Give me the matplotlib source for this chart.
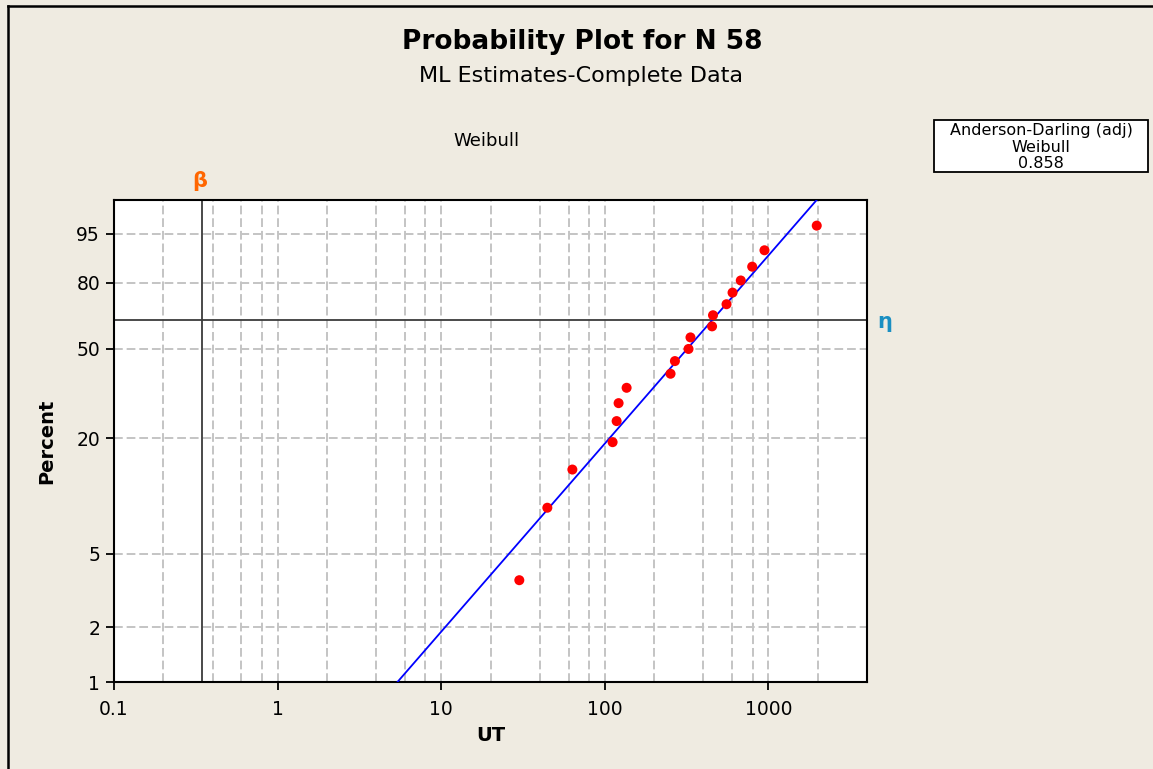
import numpy as np
import matplotlib
matplotlib.use("Agg")
import matplotlib.pyplot as plt
from matplotlib.lines import Line2D
from matplotlib.patches import Rectangle

# UT values (sorted) and their plotting positions in percent
ut = [30, 44.5, 63.3, 111.5, 118, 121.3, 135.8, 252, 268, 324.5,
      333.6, 452, 458, 554, 603, 677, 795, 945, 1972]
percent = [3.6, 8.8, 13.9, 19.1, 24.2, 29.4, 34.5, 39.7, 44.8, 50.0,
           55.2, 60.3, 65.5, 70.6, 75.8, 80.9, 86.1, 91.2, 96.4]

# fitted Weibull line, end points on the probability paper
fit_ut = [5.4, 1970]
fit_pct = [1, 99]

# reference lines
beta_x = 0.344
eta_pct = 63.2

y_ticks = [1, 2, 5, 20, 50, 80, 95]
x_ticks = [0.1, 1, 10, 100, 1000]
x_tick_labels = ["0.1", "1", "10", "100", "1000"]

ad_lines = ["Anderson-Darling (adj)", "Weibull", "0.858"]

bg = "#EFEBE1"
W, H = 1153, 769


def weib_fwd(p):
    p = np.clip(np.asarray(p, dtype=float), 1e-6, 100 - 1e-6) / 100.0
    return np.log(-np.log(1 - p))


def weib_inv(w):
    return 100.0 * (1 - np.exp(-np.exp(np.asarray(w, dtype=float))))


fig = plt.figure(figsize=(W / 100, H / 100), dpi=100, facecolor=bg)
ax = fig.add_axes([114 / W, 1 - 682 / H, (867 - 114) / W, (682 - 200) / H])
ax.set_facecolor("white")

ax.set_xscale("log")
ax.set_yscale("function", functions=(weib_fwd, weib_inv))
ax.set_xlim(0.1, 4000)
ax.set_ylim(1, 99)

# grid: 1,2,4,6,8 in each decade, and the percent ticks
grid_kw = dict(color="#C4C4C4", lw=1.4, linestyle=(0, (4.5, 2)), zorder=1)
for dec in [0.1, 1, 10, 100, 1000]:
    for m in [1, 2, 4, 6, 8]:
        gx = dec * m
        if 0.1 < gx < 4000:
            ax.axvline(gx, **grid_kw)
for yt in y_ticks[1:]:
    ax.axhline(yt, **grid_kw)

ax.axvline(beta_x, color="#3C3C3C", lw=1.3, zorder=2)
ax.axhline(eta_pct, color="#3C3C3C", lw=1.3, zorder=2)

ax.plot(fit_ut, fit_pct, color="#0000FF", lw=1.3, zorder=3)
ax.scatter(ut, percent, s=52, color="#FF0000", edgecolors="none", zorder=4)

ax.set_xticks(x_ticks)
ax.set_xticklabels(x_tick_labels)
ax.xaxis.set_minor_locator(matplotlib.ticker.NullLocator())
ax.set_yticks(y_ticks)
ax.set_yticklabels([str(v) for v in y_ticks])
ax.yaxis.set_minor_locator(matplotlib.ticker.NullLocator())
ax.tick_params(axis="both", which="major", direction="out", length=6,
               width=1.3, labelsize=13.5, colors="black")
ax.tick_params(axis="x", pad=7)
ax.tick_params(axis="y", pad=4)
for sp in ax.spines.values():
    sp.set_linewidth(1.5)
    sp.set_color("black")

ax.set_xlabel("UT", fontsize=14, fontweight="bold")
ax.xaxis.set_label_coords(0.5, -(726 - 682) / (682 - 200))
ax.set_ylabel("Percent", fontsize=14, fontweight="bold")
ax.yaxis.set_label_coords(-(114 - 56) / (867 - 114), 0.5)

# titles and labels in figure pixels
def fx(px):
    return px / W


def fy(py):
    return 1 - py / H


fig.text(fx(582), fy(49), "Probability Plot for N 58", ha="center",
         va="baseline", fontsize=19, fontweight="bold")
fig.text(fx(581), fy(82), "ML Estimates-Complete Data", ha="center",
         va="baseline", fontsize=16)
fig.text(fx(486), fy(146), "Weibull", ha="center", va="baseline", fontsize=13)

fig.text(fx(200), fy(181), "\u03b2", ha="center", va="center",
         fontsize=15, fontweight="bold", color="#FF6600")
fig.text(fx(885), fy(322), "\u03b7", ha="center", va="center",
         fontsize=15, fontweight="bold", color="#1A8FC2")

# Anderson-Darling box
fig.patches.append(Rectangle((fx(934), fy(172)), (1148 - 934) / W,
                             (172 - 120) / H, transform=fig.transFigure,
                             facecolor="white", edgecolor="black", lw=1.3))
for i, line in enumerate(ad_lines):
    fig.text(fx(1041), fy(131 + 16 * i), line, ha="center", va="center",
             fontsize=11.5)

# outer frame (left and top edges)
fig.lines.append(Line2D([fx(8), fx(8)], [fy(H + 5), fy(6)],
                        transform=fig.transFigure, color="black", lw=1.8))
fig.lines.append(Line2D([fx(8), fx(W + 5)], [fy(6), fy(6)],
                        transform=fig.transFigure, color="black", lw=1.8))

fig.savefig("out.png", dpi=100, facecolor=bg)
